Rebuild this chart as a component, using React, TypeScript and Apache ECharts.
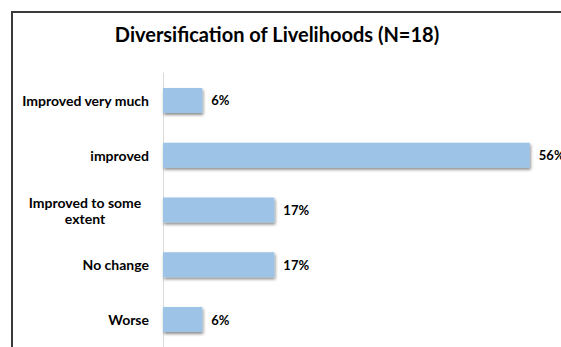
import React, { useEffect, useRef } from "react";
import * as echarts from "echarts";

const categories = ["Improved very much", "improved", "Improved to some extent", "No change", "Worse"];
const values = [6, 56, 17, 17, 6];
const titleText = "Diversification of Livelihoods (N=18)";

export default function App() {
  const ref = useRef<HTMLDivElement>(null);
  useEffect(() => {
    const chart = echarts.init(ref.current!, null, { renderer: "svg" });
    const font = "Lato";
    chart.setOption({
      animation: false,
      backgroundColor: "#ffffff",
      title: {
        text: titleText,
        left: 272,
        textAlign: "center",
        top: 19,
        textStyle: { fontFamily: font, fontWeight: "bold", fontSize: 20, color: "#000" },
      },
      graphic: [
        {
          type: "line",
          shape: { x1: 11, y1: 12, x2: 561, y2: 12 },
          style: { stroke: "#3a3a3a", lineWidth: 2 },
          silent: true,
        },
        {
          type: "line",
          shape: { x1: 12, y1: 11, x2: 12, y2: 347 },
          style: { stroke: "#3a3a3a", lineWidth: 2 },
          silent: true,
        },
      ],
      grid: { left: 163, right: 5, top: 73, bottom: 0, containLabel: false },
      xAxis: { type: "value", min: 0, max: 60, show: false },
      yAxis: {
        type: "category",
        data: categories.slice().reverse(),
        axisLine: { show: true, lineStyle: { color: "#D9D9D9", width: 1 } },
        axisTick: { show: false },
        axisLabel: {
          margin: 14,
          fontFamily: font,
          fontWeight: "bold",
          fontSize: 14,
          color: "#000",
          formatter: (v: string) =>
            v === "Improved to some extent" ? "{w|Improved to some\nextent}" : v,
          rich: {
            w: {
              width: 128,
              align: "center",
              fontFamily: font,
              fontWeight: "bold",
              fontSize: 14,
              lineHeight: 16,
              color: "#000",
            },
          },
        },
      },
      series: [
        {
          type: "bar",
          data: values.slice().reverse(),
          barWidth: 25,
          itemStyle: {
            color: "#9DC3E6",
            shadowColor: "rgba(0,0,0,0.45)",
            shadowBlur: 3,
            shadowOffsetX: 1,
            shadowOffsetY: 2,
          },
          label: {
            show: true,
            position: "right",
            distance: 9,
            formatter: "{c}%",
            fontFamily: font,
            fontWeight: "bold",
            fontSize: 13,
            color: "#000",
          },
        },
      ],
    });
    return () => chart.dispose();
  }, []);
  return <div ref={ref} style={{ width: 561, height: 347, position: "absolute", left: 0, top: 0 }} />;
}
